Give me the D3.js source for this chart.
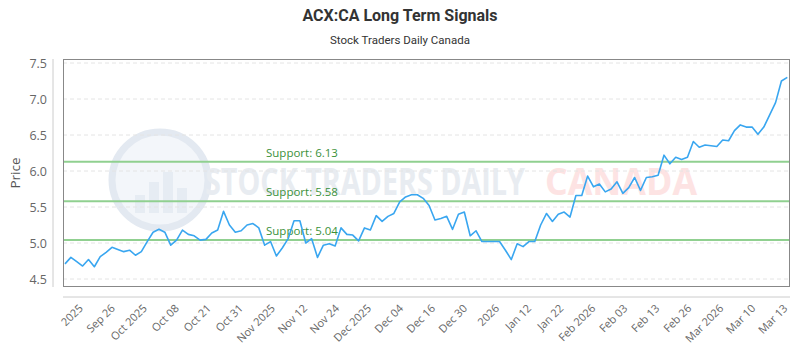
<!DOCTYPE html>
<html>
<head>
<meta charset="utf-8">
<script src="https://cdn.jsdelivr.net/npm/d3@7/dist/d3.min.js"></script>
<style>
  html, body { margin: 0; padding: 0; background: #fff; }
  svg { display: block; }
</style>
</head>
<body>
<svg id="chart" width="800" height="350"></svg>
<script>
// ---- data ----
const prices = [
  4.71, 4.80, 4.74, 4.68, 4.77, 4.67, 4.81, 4.87, 4.94, 4.91,
  4.88, 4.90, 4.83, 4.88, 5.02, 5.15, 5.19, 5.15, 4.97, 5.04,
  5.18, 5.12, 5.10, 5.04, 5.05, 5.14, 5.18, 5.44, 5.25, 5.15,
  5.17, 5.25, 5.27, 5.21, 4.97, 5.02, 4.82, 4.93, 5.06, 5.31,
  5.31, 5.00, 5.06, 4.80, 4.97, 4.99, 4.96, 5.21, 5.12, 5.11,
  5.03, 5.21, 5.18, 5.38, 5.30, 5.37, 5.41, 5.57, 5.64, 5.67,
  5.67, 5.62, 5.52, 5.32, 5.34, 5.37, 5.19, 5.40, 5.43, 5.10,
  5.17, 5.02, 5.02, 5.02, 5.02, 4.90, 4.77, 4.99, 4.95, 5.02,
  5.02, 5.25, 5.41, 5.30, 5.40, 5.43, 5.36, 5.66, 5.66, 5.93,
  5.78, 5.82, 5.71, 5.75, 5.85, 5.69, 5.77, 5.91, 5.73, 5.91,
  5.92, 5.94, 6.22, 6.10, 6.19, 6.16, 6.19, 6.41, 6.33, 6.36,
  6.35, 6.34, 6.43, 6.42, 6.56, 6.64, 6.61, 6.61, 6.51, 6.61,
  6.78, 6.95, 7.25, 7.30
];
const tickLabels = [
  "2025", "Sep 26", "Oct 2025", "Oct 08", "Oct 21", "Oct 31", "Nov 2025",
  "Nov 12", "Nov 24", "Dec 2025", "Dec 04", "Dec 16", "Dec 30", "2026",
  "Jan 12", "Jan 22", "Feb 2026", "Feb 03", "Feb 13", "Feb 26", "Mar 2026",
  "Mar 10", "Mar 13"
];
const firstLabelIndex = 3;
const yTicks = [4.5, 5.0, 5.5, 6.0, 6.5, 7.0, 7.5];
const supports = [6.13, 5.58, 5.04];
const titleText = "ACX:CA Long Term Signals";
const subtitleText = "Stock Traders Daily Canada";

// ---- layout ----
const svg = d3.select("#chart");
const plot = { left: 63, right: 790, top: 59, bottom: 287 };

const x = d3.scaleLinear().domain([0, prices.length - 1]).range([65, 787.3]);
const y = d3.scaleLinear().domain([4.5, 7.5]).range([279, 63]);

svg.append("rect").attr("width", 800).attr("height", 350).attr("fill", "#fff");

// title
svg.append("text").attr("x", 400).attr("y", 21).attr("text-anchor", "middle")
  .attr("font-family", "Roboto, sans-serif").attr("font-weight", "bold")
  .attr("font-size", 16).attr("fill", "#333").text(titleText);
svg.append("text").attr("x", 400).attr("y", 44).attr("text-anchor", "middle")
  .attr("font-family", "Roboto, sans-serif")
  .attr("font-size", 11.5).attr("fill", "#333").text(subtitleText);

// watermark
const wm = svg.append("g").attr("opacity", 1);
wm.append("circle").attr("cx", 160).attr("cy", 180).attr("r", 48)
  .attr("fill", "#f3f6fa").attr("stroke", "#e3e9f1").attr("stroke-width", 7);
[[135, 195, 10, 18], [149, 182, 10, 31], [163, 172, 10, 41], [177, 188, 10, 25]].forEach(b => {
  wm.append("rect").attr("x", b[0]).attr("y", b[1]).attr("width", b[2]).attr("height", b[3])
    .attr("fill", "#e6ecf3");
});
wm.append("text").attr("x", 205).attr("y", 195)
  .attr("font-family", "'Open Sans', sans-serif").attr("font-weight", "bold")
  .attr("font-size", 38).attr("fill", "#e8ecf1")
  .attr("textLength", 320).attr("lengthAdjust", "spacingAndGlyphs")
  .text("STOCK TRADERS DAILY");
wm.append("text").attr("x", 545).attr("y", 195)
  .attr("font-family", "'Open Sans', sans-serif").attr("font-weight", "bold")
  .attr("font-size", 38).attr("fill", "#fde3e3")
  .attr("textLength", 152).attr("lengthAdjust", "spacingAndGlyphs")
  .text("CANADA");

// grid
svg.append("g").selectAll("line").data(yTicks).join("line")
  .attr("x1", plot.left).attr("x2", plot.right)
  .attr("y1", d => y(d)).attr("y2", d => y(d))
  .attr("stroke", "#e4e4e4").attr("stroke-dasharray", "4,3").attr("stroke-width", 1);

// y axis
svg.append("line").attr("x1", 53).attr("x2", 53).attr("y1", plot.top).attr("y2", plot.bottom)
  .attr("stroke", "#ccc");
svg.append("g").selectAll("text").data(yTicks).join("text")
  .attr("x", 47).attr("y", d => y(d) + 4.5).attr("text-anchor", "end")
  .attr("font-family", "'Open Sans', sans-serif").attr("font-size", 12.5).attr("fill", "#666")
  .text(d => d.toFixed(1));
svg.append("text").attr("transform", "translate(20,173) rotate(-90)")
  .attr("text-anchor", "middle").attr("font-family", "'Open Sans', sans-serif")
  .attr("font-size", 13.5).attr("fill", "#555").text("Price");

// x axis
svg.append("line").attr("x1", plot.left).attr("x2", plot.right).attr("y1", 297).attr("y2", 297)
  .attr("stroke", "#ccc");
const step = (prices.length - 1 - firstLabelIndex) / (tickLabels.length - 1);
svg.append("g").selectAll("text").data(tickLabels).join("text")
  .attr("transform", (d, i) => `translate(${x(firstLabelIndex + i * step) + 1},309) rotate(-45)`)
  .attr("text-anchor", "end")
  .attr("font-family", "'Open Sans', sans-serif").attr("font-size", 11).attr("fill", "#666")
  .text(d => d);

// support lines
const sg = svg.append("g");
sg.selectAll("line").data(supports).join("line")
  .attr("x1", plot.left).attr("x2", plot.right)
  .attr("y1", d => y(d)).attr("y2", d => y(d))
  .attr("stroke", "#90d090").attr("stroke-width", 2);
sg.selectAll("text").data(supports).join("text")
  .attr("x", 266).attr("y", d => y(d) - 5)
  .attr("font-family", "'Open Sans', sans-serif").attr("font-size", 11.5).attr("fill", "#3a913a")
  .text(d => "Support: " + d.toFixed(2));

// price line
svg.append("path").datum(prices)
  .attr("d", d3.line().x((d, i) => x(i)).y(d => y(d)))
  .attr("fill", "none").attr("stroke", "#39a6f0").attr("stroke-width", 1.6)
  .attr("stroke-linejoin", "round");

// frame
svg.append("rect").attr("x", plot.left + 0.5).attr("y", plot.top + 0.5)
  .attr("width", plot.right - plot.left - 1).attr("height", plot.bottom - plot.top - 1)
  .attr("fill", "none").attr("stroke", "#888").attr("stroke-width", 1);
</script>
</body>
</html>
